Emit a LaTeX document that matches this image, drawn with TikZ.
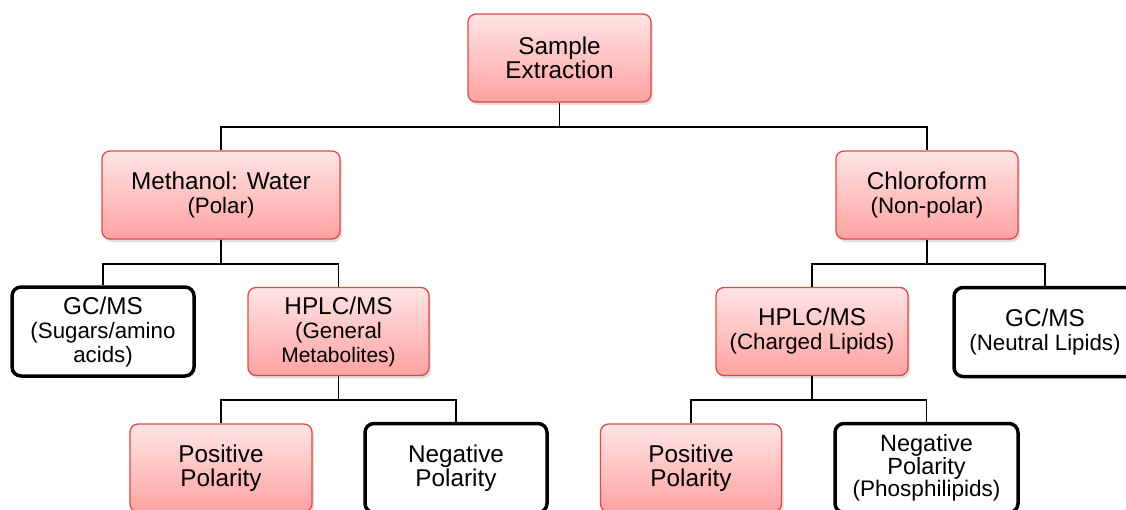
\documentclass[tikz,border=0pt]{standalone}
\usepackage{fontspec}
\setmainfont{Liberation Sans}
\usetikzlibrary{shadows}
\definecolor{boxred}{HTML}{E04848}
\definecolor{pinktop}{HTML}{FFE4E4}
\definecolor{pinkbot}{HTML}{FFA2A2}
\newcommand{\mainsz}{\fontsize{24.3}{24}\selectfont}
\newcommand{\subsz}{\fontsize{22.3}{23.5}\selectfont}
\tikzset{
    pinkbox/.style={draw=boxred,line width=1.3pt,rounded corners=8pt,
        top color=pinktop,bottom color=pinkbot,align=center,inner sep=0pt,
        font=\mainsz,minimum height=88pt,
        drop shadow={opacity=0.25,shadow xshift=2pt,shadow yshift=-3pt}},
    plainbox/.style={draw=black,line width=3.5pt,rounded corners=9pt,
        fill=white,align=center,inner sep=0pt,font=\mainsz,minimum height=89pt},
    link/.style={black,line width=1.8pt}
}

\begin{document}
\begin{tikzpicture}[x=1pt,y=-1pt]
\clip(0,0)rectangle(1126,509);
\fill[white](0,0)rectangle(1126,509);
% top level
\node[pinkbox,minimum width=183pt](se) at(559.5,58){Sample\\Extraction};
\node[pinkbox,minimum width=238pt](mw) at(221,195){Methanol: Water\\{\subsz (Polar)}};
\node[pinkbox,minimum width=182pt](cf) at(927,195){Chloroform\\{\subsz (Non-polar)}};
% instruments
\node[plainbox,minimum width=182pt](gcl) at(103,331.5){GC/MS\\{\subsz (Sugars/amino}\\{\subsz acids)}};
\node[pinkbox,minimum width=181pt](hpl) at(338.5,331.5){HPLC/MS\\{\subsz (General}\\{\fontsize{21}{23.5}\selectfont Metabolites)}};
\node[pinkbox,minimum width=192pt](hpr) at(812,331.5){HPLC/MS\\{\subsz (Charged Lipids)}};
\node[plainbox,minimum width=182pt](gcr) at(1045,332){GC/MS\\{\subsz (Neutral Lipids)}};
% polarity
\node[pinkbox,minimum width=182pt](ppl) at(221,468){Positive\\Polarity};
\node[plainbox,minimum width=182pt](npl) at(456,468){Negative\\Polarity};
\node[pinkbox,minimum width=181pt](ppr) at(691,468){Positive\\Polarity};
\node[plainbox,minimum width=183pt,font=\fontsize{23.5}{20}\selectfont](npr) at(926.5,468){Negative\\Polarity\\{\fontsize{22.5}{20}\selectfont(Phosphilipids)}};

\draw[link](se.south)--++(0,24)coordinate(topbar)-|(mw.north);
\draw[link](topbar)-|(cf.north);
\draw[link](mw.south)--++(0,24)coordinate(mwbar)-|(gcl.north);
\draw[link](mwbar)-|(hpl.north);
\draw[link](cf.south)--++(0,24)coordinate(cfbar)-|(hpr.north);
\draw[link](cfbar)-|(gcr.north);
\draw[link](hpl.south)--++(0,24)coordinate(hplbar)-|(ppl.north);
\draw[link](hplbar)-|(npl.north);
\draw[link](hpr.south)--++(0,24)coordinate(hprbar)-|(ppr.north);
\draw[link](hprbar)-|(npr.north);
\end{tikzpicture}
\end{document}
